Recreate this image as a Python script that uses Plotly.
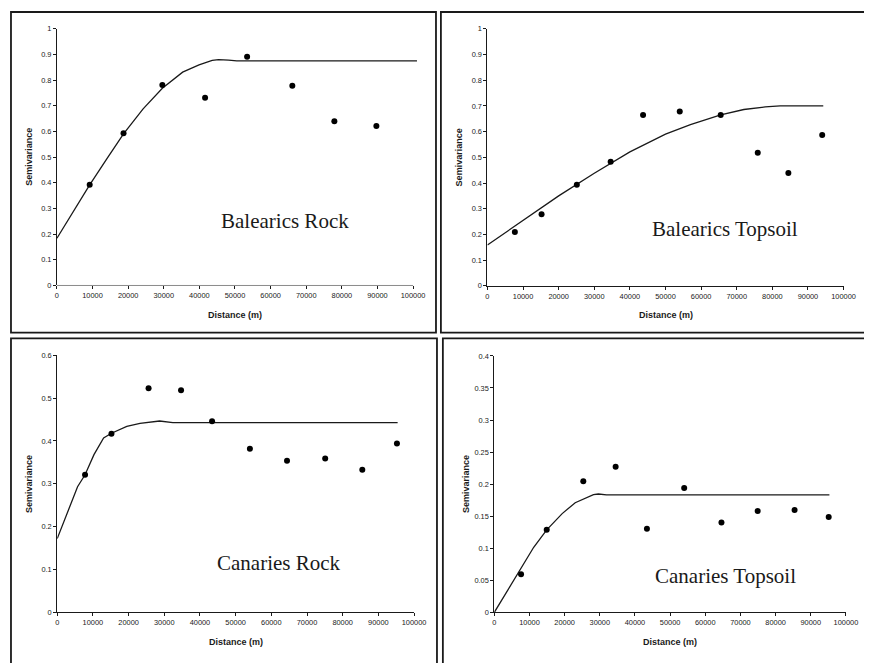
import plotly.graph_objects as go

# ---------------- data ----------------
br_lag = [9200, 18700, 29600, 41600, 53400, 66100, 77900, 89700]
br_semi = [0.392, 0.593, 0.781, 0.731, 0.891, 0.778, 0.640, 0.621]
br_model_x = [0, 4600, 9200, 14000, 18700, 24200, 29600, 35300, 39900, 43600, 45400, 48200, 50500, 101100]
br_model_y = [0.184, 0.288, 0.392, 0.493, 0.591, 0.688, 0.768, 0.831, 0.859, 0.877, 0.880, 0.878, 0.875, 0.875]

bt_lag = [7700, 15200, 25100, 34600, 43700, 54000, 65500, 75900, 84500, 94000]
bt_semi = [0.210, 0.279, 0.393, 0.483, 0.665, 0.678, 0.665, 0.518, 0.439, 0.587]
bt_model_x = [0, 10000, 20000, 30000, 40000, 50000, 57000, 65500, 72000, 78000, 82200, 94300]
bt_model_y = [0.159, 0.256, 0.350, 0.438, 0.521, 0.590, 0.627, 0.665, 0.686, 0.696, 0.700, 0.700]

cr_lag = [7800, 15200, 25600, 34700, 43400, 54000, 64400, 75100, 85500, 95200]
cr_semi = [0.321, 0.417, 0.523, 0.518, 0.446, 0.382, 0.354, 0.359, 0.333, 0.394]
cr_model_x = [0, 2000, 3900, 5700, 7800, 10300, 13000, 15200, 19500, 23200, 28700, 32400, 95400]
cr_model_y = [0.172, 0.215, 0.253, 0.293, 0.321, 0.368, 0.407, 0.418, 0.434, 0.441, 0.4465, 0.4428, 0.4428]

ct_lag = [7600, 14900, 25300, 34500, 43400, 54000, 64600, 74900, 85400, 95100]
ct_semi = [0.0595, 0.1287, 0.2046, 0.2272, 0.1303, 0.1938, 0.1400, 0.1579, 0.1595, 0.1487]
ct_model_x = [0, 7500, 11200, 14900, 19300, 23000, 25800, 28200, 29600, 31900, 95300]
ct_model_y = [0, 0.067, 0.1015, 0.1287, 0.154, 0.171, 0.178, 0.1836, 0.1846, 0.1831, 0.1831]

panel_titles = ["Balearics Rock", "Balearics Topsoil", "Canaries Rock", "Canaries Topsoil"]
x_ticks = [0, 10000, 20000, 30000, 40000, 50000, 60000, 70000, 80000, 90000, 100000]
y_ticks_1 = [0, 0.1, 0.2, 0.3, 0.4, 0.5, 0.6, 0.7, 0.8, 0.9, 1]
y_ticks_3 = [0, 0.1, 0.2, 0.3, 0.4, 0.5, 0.6]
y_ticks_4 = [0, 0.05, 0.1, 0.15, 0.2, 0.25, 0.3, 0.35, 0.4]
y_tick_text_4 = ["0", "0.05", "0.1", "0.15", "0.2", "0.25", "0.3", "0.35", "0.4"]
x_title = "Distance (m)"
y_title = "Semivariance"

# ---------------- figure ----------------
# the page body keeps the browser's default 8px margin, so the figure is
# drawn 8px smaller and all pixel positions are shifted by that amount
OFF = 8
W, H = 872 - OFF, 663 - OFF
INK = "#1a1a1a"
TICKFONT = dict(family="Liberation Sans, Arial, sans-serif", size=7.4, color=INK)

fig = go.Figure()

panels = [
    dict(lag=br_lag, semi=br_semi, mx=br_model_x, my=br_model_y),
    dict(lag=bt_lag, semi=bt_semi, mx=bt_model_x, my=bt_model_y),
    dict(lag=cr_lag, semi=cr_semi, mx=cr_model_x, my=cr_model_y),
    dict(lag=ct_lag, semi=ct_semi, mx=ct_model_x, my=ct_model_y),
]

for i, p in enumerate(panels, start=1):
    xa = "x" if i == 1 else f"x{i}"
    ya = "y" if i == 1 else f"y{i}"
    fig.add_trace(go.Scatter(x=p["mx"], y=p["my"], mode="lines", xaxis=xa, yaxis=ya,
                             line=dict(color=INK, width=1.3), showlegend=False, hoverinfo="skip"))
    fig.add_trace(go.Scatter(x=p["lag"], y=p["semi"], mode="markers", xaxis=xa, yaxis=ya,
                             marker=dict(color="black", size=6), showlegend=False, cliponaxis=False))


def px(x):
    return (x - OFF) / W


def py(y):
    return 1 - (y - OFF) / H


# pixel geometry of the four plot areas: (left, right, bottom, top)
geo = [
    (55.7, 55.7 + 1.012 * 362.0, 285.3, 25.0),
    (493.3, 855.3, 285.7, 25.0),
    (56.0, 418.7, 616.7, 356.0),
    (500.3, 857.7, 616.7, 356.7),
]
xranges = [[0, 101200], [0, 100000], [0, 100000], [0, 100000]]
yranges = [[0, 1], [0, 1], [0, 0.6], [0, 0.4]]
ytickvals = [y_ticks_1, y_ticks_1, y_ticks_3, y_ticks_4]
yticktext = [[f"{v:g}" for v in y_ticks_1], [f"{v:g}" for v in y_ticks_1],
             [f"{v:g}" for v in y_ticks_3], y_tick_text_4]

layout = dict(width=W, height=H, margin=dict(l=0, r=0, t=0, b=0),
              paper_bgcolor="white", plot_bgcolor="white", showlegend=False)

for i in range(4):
    l, r, b, t = geo[i]
    xk = "xaxis" if i == 0 else f"xaxis{i+1}"
    yk = "yaxis" if i == 0 else f"yaxis{i+1}"
    xid = "x" if i == 0 else f"x{i+1}"
    yid = "y" if i == 0 else f"y{i+1}"
    layout[xk] = dict(domain=[px(l), px(r)], range=xranges[i], anchor=yid,
                      tickvals=x_ticks, ticktext=[str(v) for v in x_ticks],
                      ticks="outside", ticklen=3, tickwidth=1, tickcolor=INK,
                      showline=(i != 0), linecolor=INK, linewidth=1,
                      showgrid=False, zeroline=False, tickfont=TICKFONT, fixedrange=True)
    layout[yk] = dict(domain=[py(b), py(t)], range=yranges[i], anchor=xid,
                      tickvals=ytickvals[i], ticktext=yticktext[i],
                      ticks="outside", ticklen=3, tickwidth=1, tickcolor=INK,
                      showline=True, linecolor=INK, linewidth=1,
                      showgrid=False, zeroline=False, tickfont=TICKFONT, fixedrange=True)

fig.update_layout(**layout)

shapes = []
# x-axis line for panel 1 stops at 100000 while the model line runs a little further
shapes.append(dict(type="line", xref="x", yref="y", x0=0, x1=100000, y0=0, y1=0,
                   line=dict(color=INK, width=1)))

# chart borders
borders = [
    (9, 441, 333, 8),
    (446, 880, 333, 8),
    (9, 442, 670, 339),
    (448, 880, 670, 339),
]
for l, r, b, t in borders:
    shapes.append(dict(type="rect", xref="paper", yref="paper",
                       x0=px(l), x1=px(r), y0=py(b), y1=py(t),
                       line=dict(color=INK, width=1.8), fillcolor="rgba(0,0,0,0)"))
fig.update_layout(shapes=shapes)

annotations = []
title_pos = [(288, 220), (735, 228), (281, 567), (735, 580)]
for (cx, cy), txt in zip(title_pos, panel_titles):
    annotations.append(dict(text=txt, xref="paper", yref="paper", x=px(cx), y=py(cy),
                            xanchor="center", yanchor="middle", showarrow=False,
                            font=dict(family="Liberation Serif, Times New Roman, serif", size=21, color=INK)))

xtitle_pos = [(236.7, 315), (674.3, 315), (237.3, 646.5), (679, 646.5)]
ytitle_pos = [(27, 155.2), (464.5, 155.3), (27.5, 486.3), (471.5, 486.7)]
for cx, cy in xtitle_pos:
    annotations.append(dict(text=f"<b>{x_title}</b>", xref="paper", yref="paper", x=px(cx), y=py(cy),
                            xanchor="center", yanchor="middle", showarrow=False,
                            font=dict(family="Liberation Sans, Arial, sans-serif", size=9, color=INK)))
for cx, cy in ytitle_pos:
    annotations.append(dict(text=f"<b>{y_title}</b>", xref="paper", yref="paper", x=px(cx), y=py(cy),
                            xanchor="center", yanchor="middle", showarrow=False, textangle=-90,
                            font=dict(family="Liberation Sans, Arial, sans-serif", size=9, color=INK)))
fig.update_layout(annotations=annotations)

fig.write_html("out.html")
